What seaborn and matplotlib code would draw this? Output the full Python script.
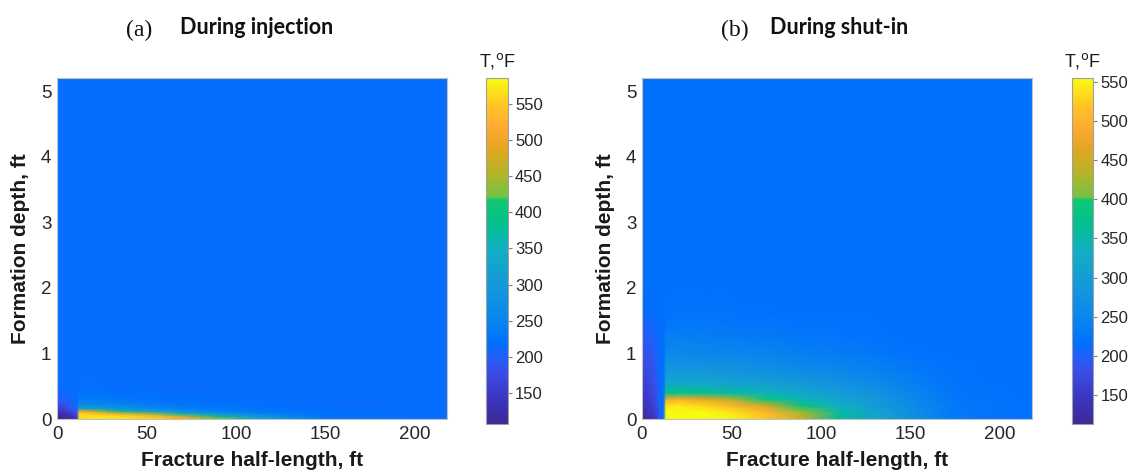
import numpy as np
import matplotlib
matplotlib.use('Agg')
import matplotlib.pyplot as plt
from matplotlib.colors import LinearSegmentedColormap, Normalize
import seaborn as sns

sns.set_style('white')
plt.rcParams['font.family'] = ['Liberation Sans', 'DejaVu Sans']

# (a) during injection - temperature field (deg F)
x_inj = [0, 4, 8, 11, 12.5, 20, 35, 50, 70, 90, 110, 130, 150, 218]
y_inj = [0, 0.04, 0.08, 0.12, 0.16, 0.22, 0.3, 0.4, 0.6, 5.2]
T_inj_y000 = [108, 112, 120, 135, 560, 575, 570, 560, 530, 450, 350, 280, 235, 215]
T_inj_y004 = [112, 118, 130, 150, 565, 570, 565, 550, 480, 380, 300, 255, 225, 215]
T_inj_y008 = [120, 128, 148, 172, 560, 550, 520, 460, 355, 292, 253, 233, 219, 215]
T_inj_y012 = [135, 146, 172, 195, 500, 460, 385, 325, 282, 250, 234, 224, 217, 215]
T_inj_y016 = [152, 165, 190, 205, 320, 312, 288, 265, 245, 232, 224, 219, 216, 215]
T_inj_y022 = [175, 188, 204, 211, 268, 262, 250, 238, 228, 221, 218, 216, 215, 215]
T_inj_y030 = [198, 205, 211, 214, 238, 235, 229, 223, 219, 216, 215, 215, 215, 215]
T_inj_y040 = [210, 213, 215, 215, 222, 221, 218, 216, 215, 215, 215, 215, 215, 215]
T_inj_y060 = [215, 215, 215, 215, 215, 215, 215, 215, 215, 215, 215, 215, 215, 215]
T_inj_y520 = [215, 215, 215, 215, 215, 215, 215, 215, 215, 215, 215, 215, 215, 215]

# (b) during shut-in
x_shut = [0, 3, 7, 10, 12, 13.5, 20, 35, 50, 70, 90, 110, 130, 150, 175, 218]
y_shut = [0, 0.1, 0.2, 0.3, 0.4, 0.55, 0.75, 1.0, 1.3, 1.6, 2.0, 5.2]
T_shut_y000 = [115, 125, 145, 195, 212, 565, 568, 565, 555, 520, 445, 370, 320, 275, 230, 215]
T_shut_y010 = [125, 135, 155, 200, 214, 560, 560, 555, 540, 500, 425, 355, 312, 270, 229, 215]
T_shut_y020 = [135, 145, 165, 205, 215, 540, 545, 530, 505, 455, 385, 335, 300, 265, 227, 215]
T_shut_y030 = [145, 150, 170, 205, 215, 480, 495, 470, 435, 385, 345, 315, 290, 258, 225, 215]
T_shut_y040 = [150, 158, 175, 208, 215, 370, 380, 368, 355, 338, 318, 298, 278, 250, 222, 215]
T_shut_y055 = [160, 165, 182, 210, 215, 318, 322, 318, 312, 302, 290, 277, 262, 240, 219, 215]
T_shut_y075 = [170, 175, 190, 212, 215, 284, 285, 283, 279, 271, 261, 252, 242, 229, 217, 215]
T_shut_y100 = [180, 185, 198, 213, 215, 255, 255, 253, 250, 245, 239, 233, 227, 220, 215, 215]
T_shut_y130 = [195, 198, 205, 214, 215, 234, 235, 233, 231, 228, 224, 221, 218, 216, 215, 215]
T_shut_y160 = [210, 212, 213, 215, 215, 220, 221, 220, 219, 218, 216, 215, 215, 215, 215, 215]
T_shut_y200 = [215, 215, 215, 215, 215, 215, 215, 215, 215, 215, 215, 215, 215, 215, 215, 215]
T_shut_y520 = [215, 215, 215, 215, 215, 215, 215, 215, 215, 215, 215, 215, 215, 215, 215, 215]

T_inj = [T_inj_y000, T_inj_y004, T_inj_y008, T_inj_y012, T_inj_y016,
         T_inj_y022, T_inj_y030, T_inj_y040, T_inj_y060, T_inj_y520]
T_shut = [T_shut_y000, T_shut_y010, T_shut_y020, T_shut_y030, T_shut_y040, T_shut_y055,
          T_shut_y075, T_shut_y100, T_shut_y130, T_shut_y160, T_shut_y200, T_shut_y520]

cbar_range_inj = (107, 586)
cbar_range_shut = (113, 555)
cbar_ticks = [150, 200, 250, 300, 350, 400, 450, 500, 550]

# parula-like map, as it looks in the picture
parula = LinearSegmentedColormap.from_list('parula_like', [
    (0.00, '#3d2a96'), (0.08, '#3c36c4'), (0.15, '#3a4ee8'), (0.20, '#1f62fb'),
    (0.23, '#0070ff'), (0.30, '#0885ef'), (0.40, '#1598da'), (0.50, '#12aec4'),
    (0.58, '#02c08f'), (0.65, '#10c870'), (0.655, '#70c448'), (0.72, '#b0b52a'),
    (0.80, '#e6a520'), (0.86, '#ffaa33'), (0.92, '#ffc424'), (1.00, '#f8fa12')])

fig = plt.figure(figsize=(11.31, 4.76), dpi=100)

panels = [
    (x_inj, y_inj, T_inj, cbar_range_inj, [0.0504, 0.1197, 0.3448, 0.7164],
     [0.4297, 0.1092, 0.0195, 0.727], '(a)', 'During injection', 0.123, 0.159),
    (x_shut, y_shut, T_shut, cbar_range_shut, [0.5676, 0.1197, 0.3448, 0.7164],
     [0.9478, 0.1092, 0.0190, 0.727], '(b)', 'During shut-in', 0.650, 0.681),
]

for x, y, T, crange, apos, cpos, tag, title, tag_x, title_x in panels:
    ax = fig.add_axes(apos)
    X, Y = np.meshgrid(x, y)
    norm = Normalize(vmin=crange[0], vmax=crange[1])
    mesh = ax.pcolormesh(X, Y, np.array(T, dtype=float), cmap=parula, norm=norm,
                         shading='gouraud', rasterized=True)
    ax.set_xlim(0, 218)
    ax.set_ylim(0, 5.2)
    ax.set_xticks([0, 50, 100, 150, 200])
    ax.set_yticks([0, 1, 2, 3, 4, 5])
    ax.tick_params(direction='in', length=3, color='#b0b0b0', labelsize=13.5,
                   labelcolor='#262626')
    ax.tick_params(axis='x', pad=5)
    ax.tick_params(axis='y', pad=4)
    for s in ax.spines.values():
        s.set_color('#c0c0c0')
        s.set_linewidth(0.8)
    ax.set_xlabel('Fracture half-length, ft', fontsize=15, fontweight='bold', color='#1a1a1a')
    ax.set_ylabel('Formation depth, ft', fontsize=15, fontweight='bold', color='#1a1a1a')
    ax.xaxis.set_label_coords(0.5, -0.095)
    ax.yaxis.set_label_coords(-0.068, 0.5)

    cax = fig.add_axes(cpos)
    cb = fig.colorbar(mesh, cax=cax)
    cb.set_ticks(cbar_ticks)
    cb.ax.tick_params(direction='out', length=3, color='#808080', labelsize=12,
                      labelcolor='#262626', pad=2)
    cb.outline.set_edgecolor('#a0a0a0')
    cb.outline.set_linewidth(0.8)
    cax.text(0.5, 1.02, 'T,$^{\\rm o}$F', transform=cax.transAxes, ha='center',
             va='bottom', fontsize=13, color='#1a1a1a')

    fig.text(tag_x, 0.935, tag, family='Liberation Serif', fontsize=17,
             ha='center', va='center', color='#111111')
    fig.text(title_x, 0.942, title, family='Lato', fontweight='bold', fontsize=15.5,
             ha='left', va='center', color='#111111')

fig.savefig('out.png', dpi=100)
